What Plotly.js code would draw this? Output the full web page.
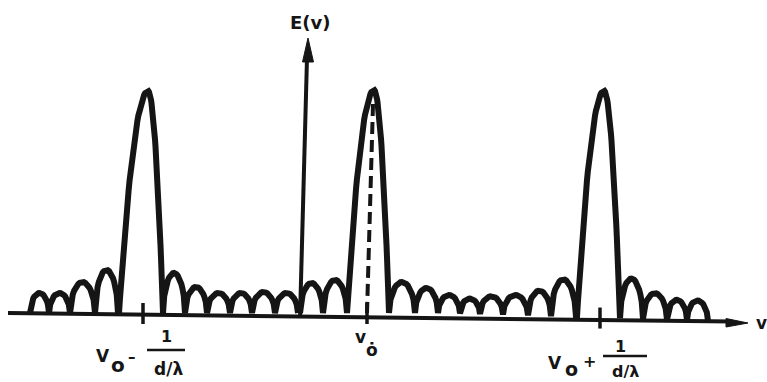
<!DOCTYPE html>
<html>
<head>
<meta charset="utf-8">
<script src="https://cdn.plot.ly/plotly-3.0.1.min.js"></script>
<style>html,body{margin:0;padding:0;background:#fff;}#chart{width:767px;height:382px;}</style>
</head>
<body>
<div id="chart"></div>
<script>
// Side lobes: start / end frequency (horizontal units) and height above baseline
const lobeStart  = [30, 49, 70, 95, 163, 185, 207, 230, 252, 275, 300, 323, 389, 415, 438, 460, 480, 503, 528, 551, 620, 643, 667, 687];
const lobeEnd    = [49, 70, 95, 118, 185, 207, 230, 252, 275, 298, 323, 347, 415, 438, 460, 480, 503, 528, 551, 576, 643, 667, 687, 708];
const lobeHeight = [20, 20, 31, 43, 40, 26, 20, 20, 21, 20, 30, 33, 31, 25, 18, 15, 18, 20, 25, 37, 40, 26, 20, 20];

// Main peaks: left foot, apex, right foot, height
const peakLeft   = [119, 347, 577];
const peakApex   = [148, 374, 604];
const peakRight  = [163, 389, 620];
const peakHeight = [222, 223, 227];

// Tick marks
const tickPos = [143, 367, 600];
const yAxisPos = 300;

const INK = '#151515';

// baseline (slightly tilted as in the scanned drawing)
function base(x) { return x < 450 ? 313 : 313 + (x - 450) * 9 / 297; }

// build segments
const segs = [];
for (let i = 0; i < lobeStart.length; i++) {
  const s = lobeStart[i], e = lobeEnd[i], h = lobeHeight[i];
  const pts = [];
  const N = 18;
  for (let k = 0; k <= N; k++) {
    const t = k / N, x = s + t * (e - s), u = 2 * t - 1;
    pts.push([x, base(x) - h * Math.pow(Math.max(0, 1 - u * u), 0.55)]);
  }
  segs.push({s: s, e: e, pts: pts});
}
for (let i = 0; i < peakApex.length; i++) {
  const L = peakLeft[i], A = peakApex[i], R = peakRight[i], H = peakHeight[i];
  const pts = [];
  const N = 30;
  for (let k = 0; k <= N; k++) {
    const x = L + (A - L) * k / N, u = (A - x) / (A - L);
    pts.push([x, base(x) - H * (1 - u * u)]);
  }
  for (let k = 1; k <= N; k++) {
    const x = A + (R - A) * k / N, u = (x - A) / (R - A);
    pts.push([x, base(x) - H * (1 - u * u)]);
  }
  segs.push({s: L, e: R, pts: pts});
}
segs.sort((a, b) => a.s - b.s);
const cx = [], cy = [];
let prevEnd = null;
segs.forEach(sg => {
  if (prevEnd !== null && Math.abs(sg.s - prevEnd) > 1.5) { cx.push(null); cy.push(null); }
  sg.pts.forEach(p => { cx.push(p[0]); cy.push(p[1]); });
  prevEnd = sg.e;
});

const traces = [];
// x axis line
traces.push({x: [8, 732], y: [base(8), base(732)], mode: 'lines', line: {color: INK, width: 4}, hoverinfo: 'skip'});
// y axis line
traces.push({x: [yAxisPos, 307], y: [318, 58], mode: 'lines', line: {color: INK, width: 4}, hoverinfo: 'skip'});
// ticks
const tx = [], ty = [];
tickPos.forEach(p => { tx.push(p, p, null); ty.push(base(p) - 10, base(p) + 11, null); });
traces.push({x: tx, y: ty, mode: 'lines', line: {color: INK, width: 3.5}, hoverinfo: 'skip'});
// spectrum curve
traces.push({x: cx, y: cy, mode: 'lines', line: {color: INK, width: 6, shape: 'linear'}, connectgaps: false, hoverinfo: 'skip'});
// dashed centre line
traces.push({x: [peakApex[1] - 1, tickPos[1]], y: [base(peakApex[1]) - peakHeight[1] + 14, base(tickPos[1])], mode: 'lines', line: {color: INK, width: 4, dash: '12px,6px'}, hoverinfo: 'skip'});

const F = 'DejaVu Sans, Liberation Sans, sans-serif';
function ann(text, x, y, size) {
  return {text: '<b>' + text + '</b>', x: x, y: y, xref: 'x', yref: 'y', showarrow: false,
          xanchor: 'center', yanchor: 'middle', font: {family: F, size: size, color: INK}};
}
const annotations = [
  ann('E(v)', 310, 22, 18),
  ann('v', 761, 323, 17),
  // left label
  ann('V', 102.5, 356, 17), ann('o', 118, 365, 20), ann('–', 132, 357, 15),
  ann('1', 166, 336, 16), ann('d/λ', 168, 369, 17),
  // centre label
  ann('v', 360, 337, 17), ann('ȯ', 372, 350, 17),
  // right label
  ann('V', 554.5, 363, 17), ann('o', 571, 369, 19), ann('+', 589, 361, 16),
  ann('1', 620, 346, 16), ann('d/λ', 625, 371, 16)
];

const shapes = [
  {type: 'path', xref: 'x', yref: 'y', path: 'M 748 323 L 726 318.5 L 726 327 Z', fillcolor: INK, line: {color: INK, width: 1}},
  {type: 'path', xref: 'x', yref: 'y', path: 'M 308 38 L 302.5 62 L 313.5 62 Z', fillcolor: INK, line: {color: INK, width: 1}},
  {type: 'line', xref: 'x', yref: 'y', x0: 147, x1: 185, y0: 350, y1: 350, line: {color: INK, width: 2.5}},
  {type: 'line', xref: 'x', yref: 'y', x0: 603, x1: 647, y0: 356, y1: 356, line: {color: INK, width: 2.5}}
];

const layout = {
  width: 767, height: 382,
  margin: {l: 0, r: 0, t: 0, b: 0},
  paper_bgcolor: '#ffffff', plot_bgcolor: '#ffffff',
  showlegend: false,
  xaxis: {range: [0, 767], visible: false, fixedrange: true},
  yaxis: {range: [382, 0], visible: false, fixedrange: true},
  annotations: annotations,
  shapes: shapes
};
Plotly.newPlot('chart', traces, layout, {staticPlot: true, displayModeBar: false});
</script>
</body>
</html>
